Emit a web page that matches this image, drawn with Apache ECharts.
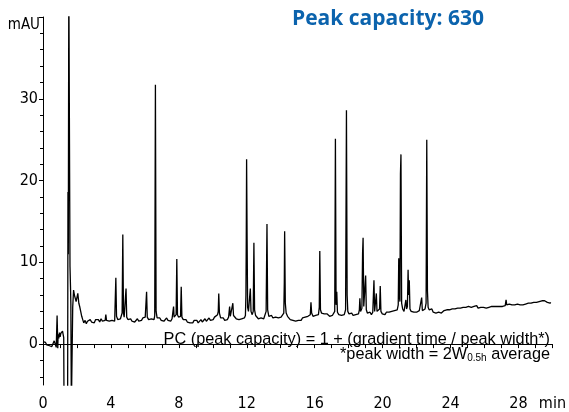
<!DOCTYPE html>
<html>
<head>
<meta charset="utf-8">
<script src="https://cdn.jsdelivr.net/npm/echarts@6/dist/echarts.min.js"></script>
<style>
html,body{margin:0;padding:0;background:#fff;}
#chart{width:569px;height:412px;}
</style>
</head>
<body>
<div id="chart"></div>
<script>
// ---- data (time in min, absorbance in mAU) ----
var trace0to4 = [[0.00,0.3],[0.08,0.1],[0.15,0.2],[0.22,-0.1],[0.30,0.1],[0.38,-0.2],[0.45,0.0],[0.52,-0.3],[0.60,0.1],[0.66,0.4],[0.72,0.0],[0.78,-0.4],[0.81,-0.2],[0.83,3.5],[0.85,1.8],[0.87,-0.5],[0.89,1.2],[0.93,0.7],[0.97,1.4],[1.01,0.9],[1.05,1.3],[1.10,1.1],[1.15,1.6],[1.20,1.5],[1.22,0.8],[1.24,-8],[1.45,-8],[1.47,18.6],[1.49,11],[1.52,45],[1.56,45],[1.59,9.5],[1.62,7],[1.64,5],[1.67,-8],[1.72,-8],[1.75,4.5],[1.80,6.6],[1.85,6.0],[1.90,5.6],[1.95,5.2],[2.00,5.0],[2.05,6.2],[2.08,6.3],[2.11,5.0],[2.16,4.6],[2.22,4.0],[2.28,3.4],[2.34,3.0],[2.40,2.6],[2.48,2.9],[2.55,2.5],[2.62,2.8],[2.70,2.6],[2.78,3.0],[2.86,2.7],[2.94,2.9],[3.02,2.6],[3.10,3.0],[3.18,2.8],[3.26,3.0],[3.34,2.7],[3.42,3.1],[3.50,2.8],[3.58,3.0],[3.66,2.9],[3.70,3.6],[3.74,2.9],[3.82,3.1],[3.90,2.8],[3.98,3.0],[4.06,2.9],[4.14,3.0],[4.22,2.8]];
var trace4to12 = [[4.25,3.0],[4.29,8.1],[4.33,3.4],[4.40,3.0],[4.48,2.9],[4.56,3.1],[4.62,3.0],[4.66,3.8],[4.70,13.4],[4.74,3.8],[4.78,3.3],[4.85,3.2],[4.89,6.8],[4.93,3.3],[5.00,3.0],[5.08,2.9],[5.16,3.1],[5.24,2.8],[5.32,3.0],[5.40,2.7],[5.48,2.9],[5.56,3.1],[5.64,2.8],[5.72,3.0],[5.80,2.9],[5.88,3.2],[5.96,3.0],[6.02,3.3],[6.06,3.2],[6.10,6.4],[6.14,3.3],[6.22,3.0],[6.30,2.9],[6.38,3.1],[6.46,2.9],[6.54,3.0],[6.58,3.5],[6.62,31.7],[6.66,4.0],[6.72,3.2],[6.80,3.0],[6.88,3.2],[6.96,2.9],[7.04,3.1],[7.12,2.8],[7.20,3.0],[7.28,3.2],[7.36,2.9],[7.44,3.0],[7.52,2.8],[7.60,3.1],[7.66,3.0],[7.69,4.6],[7.72,3.3],[7.78,3.4],[7.84,3.6],[7.88,10.4],[7.92,3.6],[7.98,3.3],[8.06,3.2],[8.10,3.4],[8.14,7.0],[8.18,3.3],[8.26,3.0],[8.34,2.8],[8.42,3.0],[8.50,2.7],[8.58,2.9],[8.66,2.6],[8.74,2.8],[8.82,2.6],[8.90,2.9],[8.98,2.7],[9.06,2.9],[9.14,2.6],[9.22,2.8],[9.30,3.0],[9.38,2.7],[9.46,2.9],[9.54,3.1],[9.62,2.8],[9.70,3.0],[9.78,3.2],[9.86,2.9],[9.94,3.1],[10.02,3.0],[10.10,3.3],[10.20,3.4],[10.28,3.6],[10.32,4.0],[10.35,6.2],[10.39,3.8],[10.46,3.2],[10.54,3.0],[10.62,3.2],[10.70,2.9],[10.78,3.1],[10.86,3.0],[10.93,3.3],[10.99,4.6],[11.03,3.4],[11.09,3.5],[11.14,3.6],[11.18,5.0],[11.22,3.5],[11.30,3.3],[11.38,3.1],[11.46,3.3],[11.54,3.0],[11.62,3.2],[11.70,3.1],[11.78,3.3],[11.86,3.2],[11.92,3.5]];
var trace12to20 = [[11.95,6],[11.97,12.8],[11.99,22.6],[12.02,12.8],[12.05,4.5],[12.10,4.0],[12.16,4.2],[12.21,6.8],[12.25,4.0],[12.32,3.6],[12.38,4.0],[12.42,12.4],[12.46,4.2],[12.52,3.5],[12.60,3.3],[12.68,3.1],[12.76,3.3],[12.84,3.2],[12.92,3.4],[13.00,3.1],[13.08,3.3],[13.14,4.0],[13.17,10.4],[13.19,14.7],[13.23,4.2],[13.30,3.4],[13.38,3.3],[13.46,3.5],[13.54,3.2],[13.62,3.4],[13.70,3.3],[13.78,3.5],[13.86,3.2],[13.94,3.4],[14.02,3.3],[14.10,3.5],[14.18,3.8],[14.21,7.5],[14.23,13.8],[14.27,5.0],[14.32,3.8],[14.40,3.4],[14.48,3.2],[14.56,3.0],[14.64,3.1],[14.72,2.9],[14.80,3.0],[14.88,2.8],[14.96,3.0],[15.04,2.9],[15.12,3.1],[15.20,2.9],[15.28,3.2],[15.36,3.0],[15.44,3.3],[15.52,3.2],[15.60,3.4],[15.68,3.3],[15.74,3.6],[15.78,5.1],[15.82,3.8],[15.90,3.4],[15.98,3.6],[16.06,3.5],[16.14,3.7],[16.22,3.6],[16.27,4.5],[16.30,11.4],[16.34,4.2],[16.40,3.8],[16.48,3.6],[16.56,3.7],[16.64,3.5],[16.72,3.7],[16.80,3.6],[16.88,3.4],[16.96,3.6],[17.04,3.5],[17.12,3.7],[17.18,4.0],[17.22,25.1],[17.26,4.8],[17.30,6.4],[17.34,3.9],[17.42,3.6],[17.50,3.8],[17.58,3.5],[17.66,3.7],[17.74,3.6],[17.82,4.2],[17.87,28.6],[17.91,6.0],[17.95,4.0],[18.02,3.7],[18.10,3.6],[18.18,3.8],[18.26,3.5],[18.34,3.7],[18.42,3.6],[18.50,3.8],[18.58,3.7],[18.63,4.2],[18.66,5.6],[18.70,4.0],[18.78,4.4],[18.82,11.1],[18.85,13.0],[18.89,4.6],[18.94,4.4],[19.00,8.4],[19.04,4.2],[19.10,3.8],[19.18,3.7],[19.26,3.9],[19.34,3.6],[19.42,3.9],[19.49,7.8],[19.53,4.0],[19.58,4.2],[19.63,6.2],[19.67,4.0],[19.74,3.8],[19.82,4.3],[19.86,7.1],[19.90,4.0],[19.98,3.7]];
var trace20to30 = [[20.06,3.8],[20.14,3.6],[20.22,3.9],[20.30,3.7],[20.38,3.9],[20.46,3.8],[20.54,4.0],[20.62,3.9],[20.70,4.1],[20.78,3.9],[20.86,4.2],[20.92,4.8],[20.95,10.5],[20.98,6.0],[21.02,5.2],[21.05,20.8],[21.08,23.2],[21.12,5.0],[21.18,4.3],[21.26,4.0],[21.33,4.2],[21.37,5.4],[21.41,4.3],[21.46,4.6],[21.50,9.1],[21.53,6.0],[21.57,7.8],[21.61,4.3],[21.68,4.0],[21.76,4.1],[21.84,3.9],[21.92,4.1],[22.00,3.9],[22.08,4.0],[22.16,4.1],[22.24,4.0],[22.30,5.7],[22.34,4.1],[22.42,4.0],[22.50,4.3],[22.56,5.0],[22.60,25.0],[22.64,6.5],[22.68,4.5],[22.74,4.2],[22.82,4.0],[22.90,4.3],[22.98,3.9],[23.06,4.1],[23.14,3.8],[23.22,4.0],[23.30,3.9],[23.38,4.1],[23.46,3.8],[23.54,4.0],[23.62,4.1],[23.70,3.9],[23.78,4.2],[23.86,4.0],[23.94,4.2],[24.02,4.1],[24.10,4.3],[24.18,4.1],[24.26,4.3],[24.34,4.2],[24.42,4.4],[24.50,4.2],[24.58,4.4],[24.66,4.3],[24.74,4.5],[24.82,4.3],[24.90,4.5],[24.98,4.4],[25.06,4.6],[25.14,4.4],[25.22,4.5],[25.30,4.3],[25.38,4.6],[25.46,4.5],[25.54,4.7],[25.62,4.4],[25.70,4.6],[25.78,4.5],[25.86,4.7],[25.94,4.5],[26.02,4.6],[26.10,4.4],[26.18,4.6],[26.26,4.5],[26.34,4.7],[26.42,4.6],[26.50,4.8],[26.58,4.6],[26.66,4.7],[26.74,4.6],[26.82,4.8],[26.90,4.6],[26.98,4.7],[27.06,4.6],[27.14,4.8],[27.22,4.7],[27.27,5.4],[27.31,4.8],[27.38,4.7],[27.46,4.9],[27.54,4.7],[27.62,4.8],[27.70,4.6],[27.78,4.8],[27.86,4.7],[27.94,4.9],[28.02,4.7],[28.10,4.8],[28.18,4.6],[28.26,4.8],[28.34,4.7],[28.42,4.9],[28.50,4.8],[28.58,5.0],[28.66,4.8],[28.74,5.0],[28.82,4.9],[28.90,5.1],[28.98,4.9],[29.06,5.1],[29.14,5.0],[29.22,5.2],[29.30,5.0],[29.38,5.3],[29.46,5.1],[29.54,5.3],[29.62,5.2],[29.70,5.1],[29.78,5.2],[29.86,5.0],[29.90,5.1]];

var xLabelValues = [0, 4, 8, 12, 16, 20, 24, 28, 30];
var xTickValues = [0,1,2,3,4,5,6,7,8,9,10,11,12,13,14,15,16,17,18,19,20,21,22,23,24,25,26,27,28,29,30];
var yLabelValues = [0, 10, 20, 30];
var yMajorTicks = [0, 10, 20, 30, 40];
var yMinorTicks = [-4,-2,2,4,6,8,12,14,16,18,22,24,26,28,32,34,36,38];
var xUnit = 'min';
var yUnit = 'mAU';
var titleText = 'Peak capacity: 630';
var noteLine1 = 'PC (peak capacity) = 1 + (gradient time / peak width*)';
var noteLine2 = '*peak width = 2W{sub|0.5h} average';

var trace = trace0to4.concat(trace4to12, trace12to20, trace20to30);

var axisFont = '"Liberation Sans Narrow", "DejaVu Sans Condensed", "Liberation Sans", Arial, sans-serif';
var chart = echarts.init(document.getElementById('chart'), null, {renderer: 'canvas'});
chart.setOption({
  animation: false,
  backgroundColor: '#ffffff',
  grid: {left: 43, right: 11, top: 17, bottom: 27, containLabel: false},
  xAxis: {
    type: 'value', min: 0, max: 30,
    axisLine: {show: true, lineStyle: {color: '#000', width: 1}},
    axisTick: {show: true, customValues: xTickValues, length: 4, lineStyle: {color: '#000', width: 1}},
    axisLabel: {
      customValues: xLabelValues, margin: 11, color: '#000', fontSize: 16, fontFamily: axisFont,
      formatter: function (v) { return v === 30 ? xUnit : String(v); }
    },
    splitLine: {show: false}
  },
  yAxis: [{
    type: 'value', min: -5, max: 40,
    axisLine: {show: true, lineStyle: {color: '#000', width: 1}},
    axisTick: {show: true, customValues: yMajorTicks, length: 4, lineStyle: {color: '#000', width: 1}},
    axisLabel: {customValues: yLabelValues, margin: 5, color: '#000', fontSize: 16, fontFamily: axisFont},
    splitLine: {show: false}
  }, {
    type: 'value', min: -5, max: 40, position: 'left',
    axisLine: {show: false},
    axisTick: {show: true, customValues: yMinorTicks, length: 3, lineStyle: {color: '#000', width: 1}},
    axisLabel: {show: false},
    splitLine: {show: false}
  }],
  graphic: [
    {type: 'text', right: 529, top: 18, style: {text: yUnit, fill: '#000', font: '15px ' + axisFont}},
    {type: 'text', left: 292, top: 9, style: {text: titleText, fill: '#0b63ad', font: 'bold 21px "Open Sans", "Noto Sans", sans-serif'}},
    {type: 'text', right: 19, top: 332, style: {text: noteLine1, fill: '#000', font: '16.3px "Liberation Sans", Arial, sans-serif', align: 'right'}},
    {type: 'text', right: 19, top: 347, style: {
      text: noteLine2, fill: '#000', font: '16.3px "Liberation Sans", Arial, sans-serif', align: 'right',
      rich: {sub: {fontSize: 10, fontFamily: '"Liberation Sans", Arial, sans-serif', padding: [7, 0, 0, 0]}}
    }}
  ],
  series: [{
    type: 'line', data: trace, showSymbol: false, symbol: 'none', clip: true,
    xAxisIndex: 0, yAxisIndex: 0,
    lineStyle: {color: '#000', width: 1.3}, silent: true
  }]
});
</script>
</body>
</html>
